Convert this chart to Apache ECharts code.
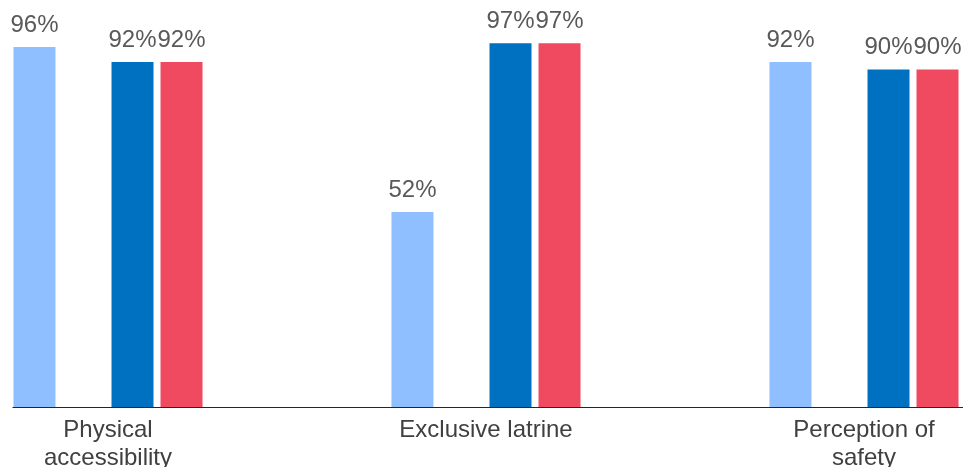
<!DOCTYPE html>
<html>
<head>
<meta charset="utf-8">
<script src="https://cdn.jsdelivr.net/npm/echarts@6/dist/echarts.min.js"></script>
<style>html,body{margin:0;padding:0;background:#fff;}#chart{width:963px;height:467px;}</style>
</head>
<body>
<div id="chart"></div>
<script>
const categories = ['Physical\naccessibility', 'Exclusive latrine', 'Perception of\nsafety'];
const seriesA = [96, 52, 92];        // light blue
const seriesB = ['-', '-', '-'];     // empty slot
const seriesC = [92, 97, 90];        // dark blue
const seriesD = [92, 97, 90];        // red

const labelStyle = {
  show: true, position: 'top', distance: 10,
  formatter: p => p.value + '%',
  fontFamily: 'Liberation Sans, Arial, sans-serif', fontSize: 24, color: '#595959'
};
function bar(name, data, color) {
  return { name, type: 'bar', data, barWidth: 42, barGap: '16.7%',
    itemStyle: { color }, label: labelStyle, xAxisIndex: 0, yAxisIndex: 0 };
}

const chart = echarts.init(document.getElementById('chart'));
chart.setOption({
  animation: false,
  grid: [
    { left: -81, width: 1134, top: 32, bottom: 60, outerBoundsMode: 'none', containLabel: false },
    { left: 13, right: 0, top: 32, bottom: 60, outerBoundsMode: 'none', containLabel: false }
  ],
  xAxis: [
    { type: 'category', data: categories, gridIndex: 0,
      axisLine: { show: false }, axisTick: { show: false },
      axisLabel: { interval: 0, margin: 9, fontFamily: 'Liberation Sans, Arial, sans-serif',
        fontSize: 24, lineHeight: 28, color: '#404040' } },
    { type: 'value', gridIndex: 1, min: 0, max: 1,
      axisLine: { show: true, lineStyle: { color: '#262626', width: 1.2 } },
      axisTick: { show: false }, axisLabel: { show: false }, splitLine: { show: false } }
  ],
  yAxis: [
    { type: 'value', gridIndex: 0, min: 0, max: 100, show: false, splitLine: { show: false } },
    { type: 'value', gridIndex: 1, min: 0, max: 1, show: false, splitLine: { show: false } }
  ],
  series: [
    bar('A', seriesA, '#8FBFFF'),
    bar('B', seriesB, '#A5A5A5'),
    bar('C', seriesC, '#0070C0'),
    bar('D', seriesD, '#EF4A60')
  ]
});
</script>
</body>
</html>
